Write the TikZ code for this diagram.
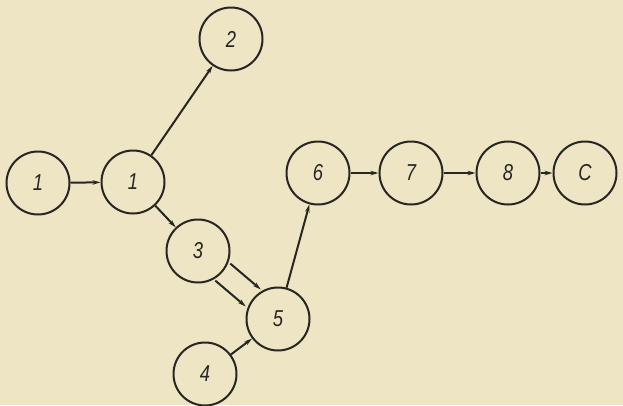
\documentclass[tikz,border=0pt]{standalone}
\usepackage{fontspec}
\newfontfamily\lbl[FakeStretch=0.8]{Liberation Sans}
\usetikzlibrary{arrows.meta}
\definecolor{paper}{RGB}{238,229,196}
\definecolor{ink}{RGB}{40,38,34}
\begin{document}
\begin{tikzpicture}[x=1pt,y=-1pt,
  st/.style={circle,draw=ink,line width=2pt,minimum size=63pt,inner sep=0pt,
    font=\lbl\itshape\fontsize{23}{23}\selectfont,text=ink},
  arr/.style={draw=ink,line width=2pt,-{Stealth[length=8pt,width=4.5pt]}}]
\fill[paper] (0,0) rectangle (623,405);
\useasboundingbox (0,0) rectangle (623,405);
\node[st] (a) at (38,183) {1};
\node[st] (b) at (133,182) {1};
\node[st] (c) at (231,39) {2};
\node[st] (d) at (198,251) {3};
\node[st] (e) at (278,319) {5};
\node[st] (f) at (205,374) {4};
\node[st] (g) at (318,173) {6};
\node[st] (h) at (411,173) {7};
\node[st] (i) at (508,173) {8};
\node[st] (j) at (585,173) {C};
\draw[arr] (a) -- (b);
\draw[arr] (b) -- (c);
\draw[arr] (b) -- (d);
\draw[arr,transform canvas={shift={(7.5,-8.5)}}] (d) -- (e);
\draw[arr,transform canvas={shift={(-7.5,8.5)}}] (d) -- (e);
\draw[arr] (f) -- (e);
\draw[arr] (e) -- (g);
\draw[arr] (g) -- (h);
\draw[arr] (h) -- (i);
\draw[arr] (i) -- (j);
\end{tikzpicture}
\end{document}
